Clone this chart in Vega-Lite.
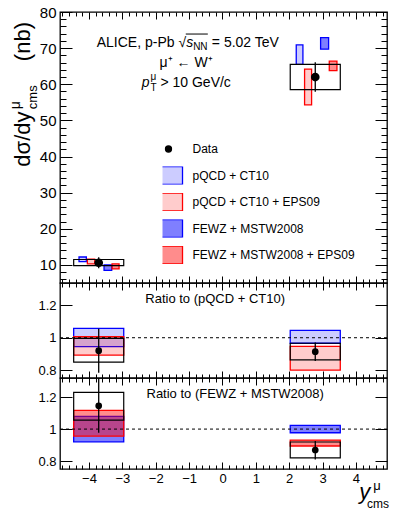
{
  "$schema": "https://vega.github.io/schema/vega-lite/v6.json",
  "padding": {"left": 8, "top": 4, "right": 5, "bottom": 5},
  "spacing": 0,
  "bounds": "flush",
  "config": {
    "view": {"stroke": "black", "strokeWidth": 1.3},
    "font": "Liberation Sans",
    "axis": {"domain": false, "grid": false, "tickColor": "black", "labelColor": "black", "labelFont": "Liberation Sans", "tickWidth": 1, "labelFlush": false, "title": null},
    "text": {"font": "Liberation Sans", "color": "black"}
  },
  "datasets": {
    "top": [
      {"series": "pQCD + CT10", "x1": -4.30, "x2": -4.08, "lo": 10.9, "hi": 12.2},
      {"series": "pQCD + CT10 + EPS09", "x1": -4.05, "x2": -3.83, "lo": 10.3, "hi": 11.6},
      {"series": "FEWZ + MSTW2008", "x1": -3.55, "x2": -3.32, "lo": 8.5, "hi": 10.0},
      {"series": "FEWZ + MSTW2008 + EPS09", "x1": -3.31, "x2": -3.10, "lo": 8.9, "hi": 10.3},
      {"series": "pQCD + CT10", "x1": 2.21, "x2": 2.41, "lo": 65.5, "hi": 70.9},
      {"series": "pQCD + CT10 + EPS09", "x1": 2.46, "x2": 2.67, "lo": 54.3, "hi": 64.2},
      {"series": "FEWZ + MSTW2008", "x1": 2.94, "x2": 3.18, "lo": 69.7, "hi": 72.9},
      {"series": "FEWZ + MSTW2008 + EPS09", "x1": 3.20, "x2": 3.43, "lo": 63.8, "hi": 66.4},
      {"series": "Data", "x": -3.71, "y": 10.6, "x1": -4.46, "x2": -2.96, "lo": 9.8, "hi": 11.5, "elo": 9.1, "ehi": 12.1},
      {"series": "Data", "x": 2.78, "y": 62.0, "x1": 2.03, "x2": 3.53, "lo": 58.5, "hi": 65.5, "elo": 57.9, "ehi": 66.1}
    ],
    "mid": [
      {"series": "pQCD + CT10", "x1": -4.46, "x2": -2.96, "lo": 0.945, "hi": 1.058},
      {"series": "pQCD + CT10 + EPS09", "x1": -4.46, "x2": -2.96, "lo": 0.893, "hi": 1.006},
      {"series": "pQCD + CT10", "x1": 2.03, "x2": 3.53, "lo": 0.966, "hi": 1.045},
      {"series": "pQCD + CT10 + EPS09", "x1": 2.03, "x2": 3.53, "lo": 0.80, "hi": 0.947},
      {"series": "Data", "x": -3.71, "y": 0.92, "x1": -4.46, "x2": -2.96, "lo": 0.85, "hi": 0.996, "elo": 0.785, "ehi": 1.055},
      {"series": "Data", "x": 2.78, "y": 0.914, "x1": 2.03, "x2": 3.53, "lo": 0.863, "hi": 0.966, "elo": 0.857, "ehi": 0.97}
    ],
    "bot": [
      {"series": "FEWZ + MSTW2008", "x1": -4.46, "x2": -2.96, "lo": 0.92, "hi": 1.08},
      {"series": "FEWZ + MSTW2008 + EPS09", "x1": -4.46, "x2": -2.96, "lo": 0.956, "hi": 1.117},
      {"series": "FEWZ + MSTW2008", "x1": 2.03, "x2": 3.53, "lo": 0.977, "hi": 1.023},
      {"series": "FEWZ + MSTW2008 + EPS09", "x1": 2.03, "x2": 3.53, "lo": 0.894, "hi": 0.931},
      {"series": "Data", "x": -3.71, "y": 1.146, "x1": -4.46, "x2": -2.96, "lo": 1.056, "hi": 1.23, "elo": 0.977, "ehi": 1.33},
      {"series": "Data", "x": 2.78, "y": 0.869, "x1": 2.03, "x2": 3.53, "lo": 0.82, "hi": 0.919, "elo": 0.81, "ehi": 0.925}
    ]
  },
  "resolve": {"scale": {"x": "independent", "y": "independent", "fill": "independent", "stroke": "independent", "shape": "independent"}},
  "vconcat": [
    {
      "width": 327, "height": 271,
      "resolve": {"scale": {"x": "independent", "y": "independent"}},
      "layer": [
        {
          "data": {"name": "top"},
          "layer": [
            {
              "transform": [{"filter": "datum.series !== 'Data'"}],
              "mark": {"type": "rect", "strokeWidth": 1.3},
              "encoding": {
                "x": {"field": "x1", "type": "quantitative", "scale": {"domain": [-4.87, 4.93], "nice": false, "zero": false},
                  "axis": {"orient": "bottom", "labels": false, "tickCount": 1000, "values": [-4,-3,-2,-1,0,1,2,3,4], "tickSize": 7, "offset": -7}},
                "x2": {"field": "x2"},
                "y": {"field": "lo", "type": "quantitative", "scale": {"domain": [5, 80], "nice": false, "zero": false},
                  "axis": {"orient": "left", "tickCount": 1000, "values": [10,20,30,40,50,60,70,80], "tickSize": 12, "offset": -12, "format": "d", "labelFontSize": 15, "labelPadding": 4, "labelOverlap": false}},
                "y2": {"field": "hi"},
                "fill": {"field": "series", "type": "nominal",
                  "scale": {"domain": ["Data","pQCD + CT10","pQCD + CT10 + EPS09","FEWZ + MSTW2008","FEWZ + MSTW2008 + EPS09"], "range": ["black","rgba(0,0,255,0.2)","rgba(255,0,0,0.2)","rgba(0,0,255,0.5)","rgba(255,0,0,0.45)"]},
                  "legend": {"orient": "none", "legendX": 102.5, "legendY": 128, "title": null, "direction": "vertical", "symbolSize": 36, "labelFontSize": 12, "labelFont": "Liberation Sans", "labelColor": "black", "labelOffset": 18, "labelLimit": 0, "rowPadding": 8.5, "clipHeight": 18, "symbolStrokeWidth": 1.3, "symbolOpacity": 1, "padding": 0}},
                "stroke": {"field": "series", "type": "nominal",
                  "scale": {"domain": ["Data","pQCD + CT10","pQCD + CT10 + EPS09","FEWZ + MSTW2008","FEWZ + MSTW2008 + EPS09"], "range": ["black","#0000ff","#ff0000","#0000ff","#ff0000"]},
                  "legend": {"orient": "none", "legendX": 102.5, "legendY": 128, "title": null, "direction": "vertical", "symbolSize": 36, "labelFontSize": 12, "labelFont": "Liberation Sans", "labelColor": "black", "labelOffset": 18, "labelLimit": 0, "rowPadding": 8.5, "clipHeight": 18, "symbolStrokeWidth": 1.3, "symbolOpacity": 1, "padding": 0}}
              }
            },
            {
              "transform": [{"filter": "datum.series === 'Data'"}],
              "mark": {"type": "rect", "color": "black", "fillOpacity": 0, "stroke": "black", "strokeWidth": 1.2},
              "encoding": {
                "x": {"field": "x1", "type": "quantitative"}, "x2": {"field": "x2"},
                "y": {"field": "lo", "type": "quantitative"}, "y2": {"field": "hi"}
              }
            },
            {
              "transform": [{"filter": "datum.series === 'Data'"}],
              "mark": {"type": "rule", "color": "black", "strokeWidth": 1.3},
              "encoding": {
                "x": {"field": "x", "type": "quantitative"},
                "y": {"field": "elo", "type": "quantitative"}, "y2": {"field": "ehi"}
              }
            },
            {
              "transform": [{"filter": "datum.series === 'Data'"}],
              "mark": {"type": "point", "filled": true, "size": 45, "opacity": 1},
              "encoding": {
                "x": {"field": "x", "type": "quantitative"},
                "y": {"field": "y", "type": "quantitative"},
                "shape": {"field": "series", "type": "nominal",
                  "scale": {"domain": ["Data","pQCD + CT10","pQCD + CT10 + EPS09","FEWZ + MSTW2008","FEWZ + MSTW2008 + EPS09"], "range": ["circle","M-4.67,-3H4.67V3H-4.67Z","M-4.67,-3H4.67V3H-4.67Z","M-4.67,-3H4.67V3H-4.67Z","M-4.67,-3H4.67V3H-4.67Z"]},
                  "legend": {"orient": "none", "legendX": 102.5, "legendY": 128, "title": null, "direction": "vertical", "symbolSize": 36, "labelFontSize": 12, "labelFont": "Liberation Sans", "labelColor": "black", "labelOffset": 18, "labelLimit": 0, "rowPadding": 8.5, "clipHeight": 18, "symbolStrokeWidth": 1.3, "symbolOpacity": 1, "padding": 0}},
                "fill": {"field": "series", "type": "nominal"},
                "stroke": {"field": "series", "type": "nominal"}
              }
            },
            {"data": {"values": [{}]}, "mark": {"type": "text", "text": "ALICE, p-Pb √", "align": "left", "baseline": "middle", "fontSize": 14},
              "encoding": {"x": {"datum": -3.77, "type": "quantitative"}, "y": {"datum": 71.4, "type": "quantitative"}}},
            {"data": {"values": [{}]}, "mark": {"type": "text", "text": "s", "align": "left", "baseline": "middle", "fontSize": 14, "fontStyle": "italic"},
              "encoding": {"x": {"datum": -1.09, "type": "quantitative"}, "y": {"datum": 71.4, "type": "quantitative"}}},
            {"data": {"values": [{}]}, "mark": {"type": "text", "text": "NN", "align": "left", "baseline": "middle", "fontSize": 10, "dy": 4},
              "encoding": {"x": {"datum": -0.88, "type": "quantitative"}, "y": {"datum": 71.4, "type": "quantitative"}}},
            {"data": {"values": [{}]}, "mark": {"type": "text", "text": "= 5.02 TeV", "align": "left", "baseline": "middle", "fontSize": 14},
              "encoding": {"x": {"datum": -0.32, "type": "quantitative"}, "y": {"datum": 71.4, "type": "quantitative"}}},
            {"data": {"values": [{}]}, "mark": {"type": "rule", "color": "black", "strokeWidth": 1},
              "encoding": {"x": {"datum": -1.1, "type": "quantitative"}, "x2": {"datum": -0.44}, "y": {"datum": 73.9, "type": "quantitative"}}},
            {"data": {"values": [{}]}, "mark": {"type": "text", "text": "μ⁺ ← W⁺", "align": "center", "baseline": "middle", "fontSize": 14},
              "encoding": {"x": {"datum": -1.09, "type": "quantitative"}, "y": {"datum": 65.9, "type": "quantitative"}}},
            {"data": {"values": [{}]}, "mark": {"type": "text", "text": "p", "align": "left", "baseline": "middle", "fontSize": 14, "fontStyle": "italic"},
              "encoding": {"x": {"datum": -2.42, "type": "quantitative"}, "y": {"datum": 60.4, "type": "quantitative"}}},
            {"data": {"values": [{}]}, "mark": {"type": "text", "text": "T", "align": "left", "baseline": "middle", "fontSize": 10, "dy": 5},
              "encoding": {"x": {"datum": -2.16, "type": "quantitative"}, "y": {"datum": 60.4, "type": "quantitative"}}},
            {"data": {"values": [{}]}, "mark": {"type": "text", "text": "μ", "align": "left", "baseline": "middle", "fontSize": 10, "dy": -6},
              "encoding": {"x": {"datum": -2.16, "type": "quantitative"}, "y": {"datum": 60.4, "type": "quantitative"}}},
            {"data": {"values": [{}]}, "mark": {"type": "text", "text": "> 10 GeV/c", "align": "left", "baseline": "middle", "fontSize": 14},
              "encoding": {"x": {"datum": -1.86, "type": "quantitative"}, "y": {"datum": 60.4, "type": "quantitative"}}},
            {"data": {"values": [{}]}, "mark": {"type": "text", "text": "dσ/dy", "angle": 270, "align": "left", "baseline": "alphabetic", "fontSize": 22},
              "encoding": {"x": {"datum": -5.77, "type": "quantitative"}, "y": {"datum": 37.2, "type": "quantitative"}}},
            {"data": {"values": [{}]}, "mark": {"type": "text", "text": "μ", "angle": 270, "align": "left", "baseline": "alphabetic", "fontSize": 14},
              "encoding": {"x": {"datum": -6.07, "type": "quantitative"}, "y": {"datum": 53.1, "type": "quantitative"}}},
            {"data": {"values": [{}]}, "mark": {"type": "text", "text": "cms", "angle": 270, "align": "left", "baseline": "alphabetic", "fontSize": 13},
              "encoding": {"x": {"datum": -5.56, "type": "quantitative"}, "y": {"datum": 53.1, "type": "quantitative"}}},
            {"data": {"values": [{}]}, "mark": {"type": "text", "text": "(nb)", "angle": 270, "align": "left", "baseline": "alphabetic", "fontSize": 22},
              "encoding": {"x": {"datum": -5.77, "type": "quantitative"}, "y": {"datum": 66.4, "type": "quantitative"}}}
          ]
        },
        {
          "data": {"values": [{}]},
          "mark": {"type": "rule", "opacity": 0},
          "encoding": {
            "x": {"datum": 0, "type": "quantitative", "scale": {"domain": [-4.87, 4.93], "nice": false, "zero": false},
              "axis": {"orient": "top", "labels": false, "tickCount": 1000, "values": [-4,-3,-2,-1,0,1,2,3,4], "tickSize": 7, "offset": -7}},
            "y": {"datum": 10, "type": "quantitative", "scale": {"domain": [5, 80], "nice": false, "zero": false},
              "axis": {"orient": "right", "labels": false, "tickCount": 1000, "values": [10,20,30,40,50,60,70,80], "tickSize": 12, "offset": -12}}
          }
        },
        {
          "data": {"values": [{}]},
          "mark": {"type": "rule", "opacity": 0},
          "encoding": {
            "x": {"datum": 0, "type": "quantitative", "scale": {"domain": [-4.87, 4.93], "nice": false, "zero": false},
              "axis": {"orient": "bottom", "labels": false, "tickCount": 1000, "values": [-4.8,-4.6,-4.4,-4.2,-3.8,-3.6,-3.4,-3.2,-2.8,-2.6,-2.4,-2.2,-1.8,-1.6,-1.4,-1.2,-0.8,-0.6,-0.4,-0.2,0.2,0.4,0.6,0.8,1.2,1.4,1.6,1.8,2.2,2.4,2.6,2.8,3.2,3.4,3.6,3.8,4.2,4.4,4.6,4.8], "tickSize": 4, "offset": -4}},
            "y": {"datum": 10, "type": "quantitative", "scale": {"domain": [5, 80], "nice": false, "zero": false},
              "axis": {"orient": "left", "labels": false, "tickCount": 1000, "values": [6,8,12,14,16,18,22,24,26,28,32,34,36,38,42,44,46,48,52,54,56,58,62,64,66,68,72,74,76,78], "tickSize": 6, "offset": -6}}
          }
        },
        {
          "data": {"values": [{}]},
          "mark": {"type": "rule", "opacity": 0},
          "encoding": {
            "x": {"datum": 0, "type": "quantitative", "scale": {"domain": [-4.87, 4.93], "nice": false, "zero": false},
              "axis": {"orient": "top", "labels": false, "tickCount": 1000, "values": [-4.8,-4.6,-4.4,-4.2,-3.8,-3.6,-3.4,-3.2,-2.8,-2.6,-2.4,-2.2,-1.8,-1.6,-1.4,-1.2,-0.8,-0.6,-0.4,-0.2,0.2,0.4,0.6,0.8,1.2,1.4,1.6,1.8,2.2,2.4,2.6,2.8,3.2,3.4,3.6,3.8,4.2,4.4,4.6,4.8], "tickSize": 4, "offset": -4}},
            "y": {"datum": 10, "type": "quantitative", "scale": {"domain": [5, 80], "nice": false, "zero": false},
              "axis": {"orient": "right", "labels": false, "tickCount": 1000, "values": [6,8,12,14,16,18,22,24,26,28,32,34,36,38,42,44,46,48,52,54,56,58,62,64,66,68,72,74,76,78], "tickSize": 6, "offset": -6}}
          }
        }
      ]
    },
    {
      "width": 327, "height": 95,
      "resolve": {"scale": {"x": "independent", "y": "independent"}},
      "layer": [
        {
          "data": {"name": "mid"},
          "layer": [
            {
              "transform": [{"filter": "datum.series !== 'Data'"}],
              "mark": {"type": "rect", "strokeWidth": 1.3},
              "encoding": {
                "x": {"field": "x1", "type": "quantitative", "scale": {"domain": [-4.87, 4.93], "nice": false, "zero": false},
                  "axis": {"orient": "bottom", "labels": false, "tickCount": 1000, "values": [-4,-3,-2,-1,0,1,2,3,4], "tickSize": 7, "offset": -7}},
                "x2": {"field": "x2"},
                "y": {"field": "lo", "type": "quantitative", "scale": {"domain": [0.752, 1.337], "nice": false, "zero": false},
                  "axis": {"orient": "left", "tickCount": 1000, "values": [0.8, 1, 1.2], "tickSize": 12, "offset": -12,
                    "labelExpr": "format(datum.value, '~g')", "labelFontSize": 13, "labelPadding": 4, "labelOverlap": false}},
                "y2": {"field": "hi"},
                "fill": {"field": "series", "type": "nominal", "legend": null,
                  "scale": {"domain": ["Data","pQCD + CT10","pQCD + CT10 + EPS09","FEWZ + MSTW2008","FEWZ + MSTW2008 + EPS09"], "range": ["black","rgba(0,0,255,0.2)","rgba(255,0,0,0.2)","rgba(0,0,255,0.5)","rgba(255,0,0,0.45)"]}},
                "stroke": {"field": "series", "type": "nominal", "legend": null,
                  "scale": {"domain": ["Data","pQCD + CT10","pQCD + CT10 + EPS09","FEWZ + MSTW2008","FEWZ + MSTW2008 + EPS09"], "range": ["black","#0000ff","#ff0000","#0000ff","#ff0000"]}}
              }
            },
            {
              "transform": [{"filter": "datum.series === 'Data'"}],
              "mark": {"type": "rect", "color": "black", "fillOpacity": 0, "stroke": "black", "strokeWidth": 1.2},
              "encoding": {
                "x": {"field": "x1", "type": "quantitative"}, "x2": {"field": "x2"},
                "y": {"field": "lo", "type": "quantitative"}, "y2": {"field": "hi"}
              }
            },
            {"data": {"values": [{}]}, "mark": {"type": "rule", "color": "black", "strokeWidth": 1, "strokeDash": [3, 3]},
              "encoding": {"x": {"datum": -4.87, "type": "quantitative"}, "x2": {"datum": 4.93}, "y": {"datum": 1, "type": "quantitative"}}},
            {
              "transform": [{"filter": "datum.series === 'Data'"}],
              "mark": {"type": "rule", "color": "black", "strokeWidth": 1.3, "clip": true},
              "encoding": {
                "x": {"field": "x", "type": "quantitative"},
                "y": {"field": "elo", "type": "quantitative"}, "y2": {"field": "ehi"}
              }
            },
            {
              "transform": [{"filter": "datum.series === 'Data'"}],
              "mark": {"type": "point", "filled": true, "size": 45, "opacity": 1, "color": "black", "shape": "circle"},
              "encoding": {
                "x": {"field": "x", "type": "quantitative"},
                "y": {"field": "y", "type": "quantitative"}
              }
            },
            {"data": {"values": [{}]}, "mark": {"type": "text", "text": "Ratio to (pQCD + CT10)", "align": "center", "baseline": "middle", "fontSize": 13},
              "encoding": {"x": {"datum": -0.22, "type": "quantitative"}, "y": {"datum": 1.238, "type": "quantitative"}}}
          ]
        },
        {
          "data": {"values": [{}]},
          "mark": {"type": "rule", "opacity": 0},
          "encoding": {
            "x": {"datum": 0, "type": "quantitative", "scale": {"domain": [-4.87, 4.93], "nice": false, "zero": false},
              "axis": {"orient": "top", "labels": false, "tickCount": 1000, "values": [-4,-3,-2,-1,0,1,2,3,4], "tickSize": 7, "offset": -7}},
            "y": {"datum": 1, "type": "quantitative", "scale": {"domain": [0.752, 1.337], "nice": false, "zero": false},
              "axis": {"orient": "right", "labels": false, "tickCount": 1000, "values": [0.8, 1, 1.2], "tickSize": 12, "offset": -12}}
          }
        },
        {
          "data": {"values": [{}]},
          "mark": {"type": "rule", "opacity": 0},
          "encoding": {
            "x": {"datum": 0, "type": "quantitative", "scale": {"domain": [-4.87, 4.93], "nice": false, "zero": false},
              "axis": {"orient": "bottom", "labels": false, "tickCount": 1000, "values": [-4.8,-4.6,-4.4,-4.2,-3.8,-3.6,-3.4,-3.2,-2.8,-2.6,-2.4,-2.2,-1.8,-1.6,-1.4,-1.2,-0.8,-0.6,-0.4,-0.2,0.2,0.4,0.6,0.8,1.2,1.4,1.6,1.8,2.2,2.4,2.6,2.8,3.2,3.4,3.6,3.8,4.2,4.4,4.6,4.8], "tickSize": 4, "offset": -4}},
            "y": {"datum": 1, "type": "quantitative", "scale": {"domain": [0.752, 1.337], "nice": false, "zero": false}, "axis": null}
          }
        },
        {
          "data": {"values": [{}]},
          "mark": {"type": "rule", "opacity": 0},
          "encoding": {
            "x": {"datum": 0, "type": "quantitative", "scale": {"domain": [-4.87, 4.93], "nice": false, "zero": false},
              "axis": {"orient": "top", "labels": false, "tickCount": 1000, "values": [-4.8,-4.6,-4.4,-4.2,-3.8,-3.6,-3.4,-3.2,-2.8,-2.6,-2.4,-2.2,-1.8,-1.6,-1.4,-1.2,-0.8,-0.6,-0.4,-0.2,0.2,0.4,0.6,0.8,1.2,1.4,1.6,1.8,2.2,2.4,2.6,2.8,3.2,3.4,3.6,3.8,4.2,4.4,4.6,4.8], "tickSize": 4, "offset": -4}},
            "y": {"datum": 1, "type": "quantitative", "scale": {"domain": [0.752, 1.337], "nice": false, "zero": false}, "axis": null}
          }
        }
      ]
    },
    {
      "width": 327, "height": 91,
      "resolve": {"scale": {"x": "independent", "y": "independent"}},
      "layer": [
        {
          "data": {"name": "bot"},
          "layer": [
            {
              "transform": [{"filter": "datum.series !== 'Data'"}],
              "mark": {"type": "rect", "strokeWidth": 1.3},
              "encoding": {
                "x": {"field": "x1", "type": "quantitative", "scale": {"domain": [-4.87, 4.93], "nice": false, "zero": false},
                  "axis": {"orient": "bottom", "tickCount": 1000, "values": [-4,-3,-2,-1,0,1,2,3,4], "tickSize": 7, "offset": -7, "format": "d", "labelFontSize": 13, "labelPadding": 3, "labelOverlap": false}},
                "x2": {"field": "x2"},
                "y": {"field": "lo", "type": "quantitative", "scale": {"domain": [0.75, 1.32], "nice": false, "zero": false},
                  "axis": {"orient": "left", "tickCount": 1000, "values": [0.8, 1, 1.2], "tickSize": 12, "offset": -12,
                    "labelExpr": "format(datum.value, '~g')", "labelFontSize": 13, "labelPadding": 4, "labelOverlap": false}},
                "y2": {"field": "hi"},
                "fill": {"field": "series", "type": "nominal", "legend": null,
                  "scale": {"domain": ["Data","pQCD + CT10","pQCD + CT10 + EPS09","FEWZ + MSTW2008","FEWZ + MSTW2008 + EPS09"], "range": ["black","rgba(0,0,255,0.2)","rgba(255,0,0,0.2)","rgba(0,0,255,0.5)","rgba(255,0,0,0.45)"]}},
                "stroke": {"field": "series", "type": "nominal", "legend": null,
                  "scale": {"domain": ["Data","pQCD + CT10","pQCD + CT10 + EPS09","FEWZ + MSTW2008","FEWZ + MSTW2008 + EPS09"], "range": ["black","#0000ff","#ff0000","#0000ff","#ff0000"]}}
              }
            },
            {
              "transform": [{"filter": "datum.series === 'Data'"}],
              "mark": {"type": "rect", "color": "black", "fillOpacity": 0, "stroke": "black", "strokeWidth": 1.2},
              "encoding": {
                "x": {"field": "x1", "type": "quantitative"}, "x2": {"field": "x2"},
                "y": {"field": "lo", "type": "quantitative"}, "y2": {"field": "hi"}
              }
            },
            {"data": {"values": [{}]}, "mark": {"type": "rule", "color": "black", "strokeWidth": 1, "strokeDash": [3, 3]},
              "encoding": {"x": {"datum": -4.87, "type": "quantitative"}, "x2": {"datum": 4.93}, "y": {"datum": 1, "type": "quantitative"}}},
            {
              "transform": [{"filter": "datum.series === 'Data'"}],
              "mark": {"type": "rule", "color": "black", "strokeWidth": 1.3, "clip": true},
              "encoding": {
                "x": {"field": "x", "type": "quantitative"},
                "y": {"field": "elo", "type": "quantitative"}, "y2": {"field": "ehi"}
              }
            },
            {
              "transform": [{"filter": "datum.series === 'Data'"}],
              "mark": {"type": "point", "filled": true, "size": 45, "opacity": 1, "color": "black", "shape": "circle"},
              "encoding": {
                "x": {"field": "x", "type": "quantitative"},
                "y": {"field": "y", "type": "quantitative"}
              }
            },
            {"data": {"values": [{}]}, "mark": {"type": "text", "text": "Ratio to (FEWZ + MSTW2008)", "align": "center", "baseline": "middle", "fontSize": 13},
              "encoding": {"x": {"datum": 0.38, "type": "quantitative"}, "y": {"datum": 1.217, "type": "quantitative"}}},
            {"data": {"values": [{}]}, "mark": {"type": "text", "text": "y", "align": "left", "baseline": "alphabetic", "fontSize": 22, "fontStyle": "italic"},
              "encoding": {"x": {"datum": 4.1, "type": "quantitative"}, "y": {"datum": 0.565, "type": "quantitative"}}},
            {"data": {"values": [{}]}, "mark": {"type": "text", "text": "μ", "align": "left", "baseline": "alphabetic", "fontSize": 13},
              "encoding": {"x": {"datum": 4.52, "type": "quantitative"}, "y": {"datum": 0.62, "type": "quantitative"}}},
            {"data": {"values": [{}]}, "mark": {"type": "text", "text": "cms", "align": "left", "baseline": "alphabetic", "fontSize": 12},
              "encoding": {"x": {"datum": 4.33, "type": "quantitative"}, "y": {"datum": 0.505, "type": "quantitative"}}}
          ]
        },
        {
          "data": {"values": [{}]},
          "mark": {"type": "rule", "opacity": 0},
          "encoding": {
            "x": {"datum": 0, "type": "quantitative", "scale": {"domain": [-4.87, 4.93], "nice": false, "zero": false},
              "axis": {"orient": "top", "labels": false, "tickCount": 1000, "values": [-4,-3,-2,-1,0,1,2,3,4], "tickSize": 7, "offset": -7}},
            "y": {"datum": 1, "type": "quantitative", "scale": {"domain": [0.75, 1.32], "nice": false, "zero": false},
              "axis": {"orient": "right", "labels": false, "tickCount": 1000, "values": [0.8, 1, 1.2], "tickSize": 12, "offset": -12}}
          }
        },
        {
          "data": {"values": [{}]},
          "mark": {"type": "rule", "opacity": 0},
          "encoding": {
            "x": {"datum": 0, "type": "quantitative", "scale": {"domain": [-4.87, 4.93], "nice": false, "zero": false},
              "axis": {"orient": "bottom", "labels": false, "tickCount": 1000, "values": [-4.8,-4.6,-4.4,-4.2,-3.8,-3.6,-3.4,-3.2,-2.8,-2.6,-2.4,-2.2,-1.8,-1.6,-1.4,-1.2,-0.8,-0.6,-0.4,-0.2,0.2,0.4,0.6,0.8,1.2,1.4,1.6,1.8,2.2,2.4,2.6,2.8,3.2,3.4,3.6,3.8,4.2,4.4,4.6,4.8], "tickSize": 4, "offset": -4}},
            "y": {"datum": 1, "type": "quantitative", "scale": {"domain": [0.75, 1.32], "nice": false, "zero": false}, "axis": null}
          }
        },
        {
          "data": {"values": [{}]},
          "mark": {"type": "rule", "opacity": 0},
          "encoding": {
            "x": {"datum": 0, "type": "quantitative", "scale": {"domain": [-4.87, 4.93], "nice": false, "zero": false},
              "axis": {"orient": "top", "labels": false, "tickCount": 1000, "values": [-4.8,-4.6,-4.4,-4.2,-3.8,-3.6,-3.4,-3.2,-2.8,-2.6,-2.4,-2.2,-1.8,-1.6,-1.4,-1.2,-0.8,-0.6,-0.4,-0.2,0.2,0.4,0.6,0.8,1.2,1.4,1.6,1.8,2.2,2.4,2.6,2.8,3.2,3.4,3.6,3.8,4.2,4.4,4.6,4.8], "tickSize": 4, "offset": -4}},
            "y": {"datum": 1, "type": "quantitative", "scale": {"domain": [0.75, 1.32], "nice": false, "zero": false}, "axis": null}
          }
        }
      ]
    }
  ]
}
